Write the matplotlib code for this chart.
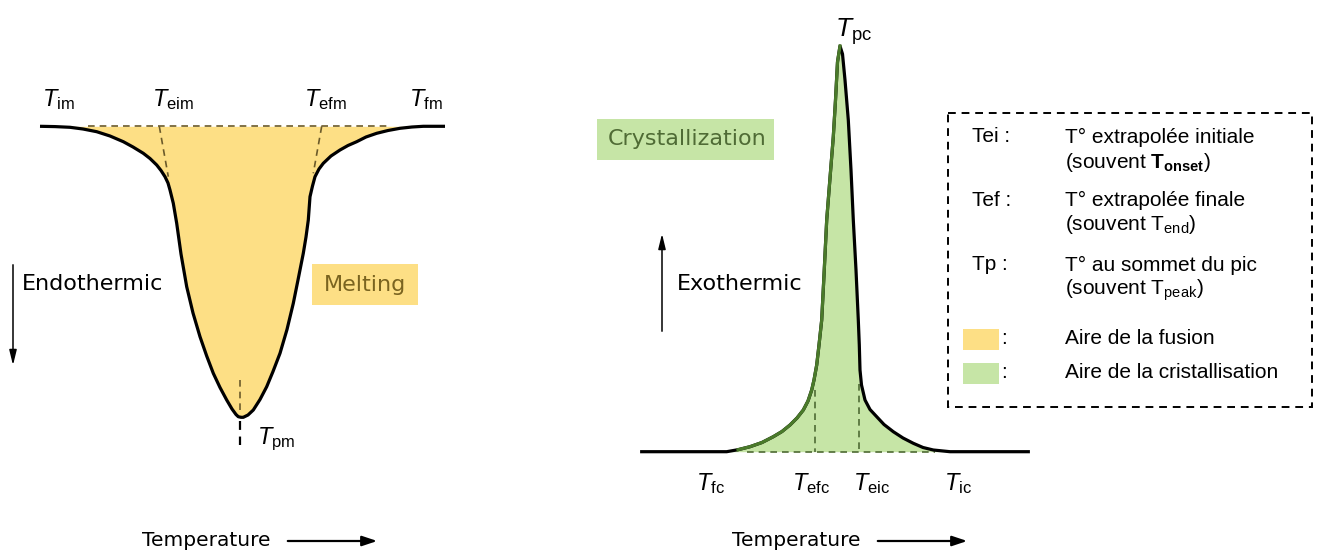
import matplotlib.pyplot as plt
from matplotlib.patches import Rectangle

plt.rcParams['mathtext.fontset'] = 'custom'
plt.rcParams['mathtext.rm'] = 'Liberation Sans'
plt.rcParams['mathtext.it'] = 'Liberation Sans:italic'
plt.rcParams['mathtext.bf'] = 'Liberation Sans:bold'

# melting curve (endotherm), pixel coords
melt_x = [40, 55, 70, 83, 96.7, 110, 123.3, 133, 143.3, 150, 156.7, 161, 165, 168, 170, 173.3, 176.7,
          181, 186.7, 193, 200, 206.7, 213.3, 220, 226.7, 232, 236, 238.3, 241, 243.3, 248, 253.3,
          260, 266.7, 273, 280, 287, 293.3, 298, 303.3, 306, 308.3, 310, 312.5, 315, 319, 323.3,
          331, 340, 348, 356.7, 366, 376.7, 388, 400, 412, 423.3, 445]
melt_y = [126.3, 126.6, 127.3, 129, 131.7, 136, 141.7, 147, 153.3, 158.5, 165, 170.5, 176.7, 183, 190,
          203.3, 223.3, 254, 286.7, 313, 336.7, 356, 373.3, 387.5, 400, 409, 414.5, 416.7, 417.3,
          417.3, 415, 410, 399.5, 386.7, 371.5, 353.3, 329.5, 303.3, 280, 253.3, 237, 220, 196.7,
          186, 176.7, 169, 163.3, 156, 150, 145.5, 141.7, 137, 133.3, 130.5, 128.3, 127, 126.3, 126.3]
melt_base = 126.3

# crystallization curve (exotherm)
cryst_x = [641.7, 700, 726.7, 738, 750, 762, 773.3, 782, 790, 797, 803.3, 808, 811.7, 814, 816.7,
           819, 821.7, 824, 826.7, 830, 833.3, 835.5, 837.5, 840, 842.5, 845, 848.3, 851, 853.3,
           856, 858.3, 859.3, 860, 861.5, 865, 870, 876.7, 884, 893.3, 903, 913.3, 923, 933.3,
           950, 1028.3]
cryst_y = [451.7, 451.7, 451.7, 449.7, 446.7, 442.5, 436.7, 431.5, 425, 418, 410, 401, 390, 380, 365,
           345, 320, 275, 220, 178, 136.7, 100, 62, 46, 54, 80, 120, 170, 220, 270, 320, 345, 370,
           385, 400, 409.5, 416.7, 424.5, 431.7, 438, 443.3, 447.5, 450, 451.7, 451.7]
cryst_base = 451.7

melt_labels = [r'$T_{\mathrm{im}}$', r'$T_{\mathrm{eim}}$', r'$T_{\mathrm{efm}}$', r'$T_{\mathrm{fm}}$']
melt_label_x = [42, 152, 304, 409]
cryst_labels = [r'$T_{\mathrm{fc}}$', r'$T_{\mathrm{efc}}$', r'$T_{\mathrm{eic}}$', r'$T_{\mathrm{ic}}$']
cryst_label_x = [696, 792, 853, 944]

legend_keys = ['Tei :', 'Tef :', 'Tp :']
legend_lines = [['T° extrapolée initiale', r'(souvent $\mathbf{T}_{\mathbf{onset}}$)'],
                ['T° extrapolée finale', r'(souvent T$_{\mathrm{end}}$)'],
                ['T° au sommet du pic', r'(souvent T$_{\mathrm{peak}}$)']]
area_labels = ['Aire de la fusion', 'Aire de la cristallisation']

YELLOW = '#fddf85'
GREEN = '#c6e5a6'
DASH_BROWN = '#6b5a2a'
DASH_GREEN = '#4f6b35'
DASH = (0, (4, 3))

fig = plt.figure(figsize=(13.17, 5.58), dpi=100)
ax = fig.add_axes([0, 0, 1, 1])
ax.set_xlim(0, 1317)
ax.set_ylim(558, 0)
ax.axis('off')

# ---- melting panel ----
ax.fill_between(melt_x, melt_y, melt_base, color=YELLOW, lw=0)
ax.plot([88, 390], [melt_base, melt_base], ls=DASH, color=DASH_BROWN, lw=1.2)
ax.plot([159.3, 168.3], [melt_base, 176.7], ls=DASH, color=DASH_BROWN, lw=1.2)
ax.plot([321.7, 313.3], [melt_base, 173.3], ls=DASH, color=DASH_BROWN, lw=1.2)
ax.plot([240, 240], [380, 410], ls=DASH, color=DASH_BROWN, lw=1.2)
ax.plot([240, 240], [421, 445], ls=DASH, color='black', lw=1.6)
ax.plot(melt_x, melt_y, color='black', lw=2.3, solid_capstyle='butt')

for lab, x in zip(melt_labels, melt_label_x):
    ax.text(x, 106, lab, fontsize=17, ha='left', va='baseline')
ax.text(257, 444, r'$T_{\mathrm{pm}}$', fontsize=17, ha='left', va='baseline')

ax.annotate('', xy=(13, 368), xytext=(13, 262),
            arrowprops=dict(arrowstyle='-|>,head_length=0.9,head_width=0.22', lw=1.1, color='black'))
ax.text(22, 284, 'Endothermic', fontsize=16, ha='left', va='center', family='DejaVu Sans')
ax.add_patch(Rectangle((312, 264), 106, 41, color=YELLOW, lw=0))
ax.text(365, 285, 'Melting', fontsize=16, ha='center', va='center', color='#7a6420',
        family='DejaVu Sans')

# ---- crystallization panel ----
ax.fill_between(cryst_x, cryst_y, cryst_base, color=GREEN, lw=0)
ax.plot([747, 935], [cryst_base, cryst_base], ls=DASH, color=DASH_GREEN, lw=1.2)
ax.plot([815, 815], [390, cryst_base], ls=DASH, color=DASH_GREEN, lw=1.2)
ax.plot([859.3, 859.3], [384, cryst_base], ls=DASH, color=DASH_GREEN, lw=1.2)
ax.plot(cryst_x, cryst_y, color='black', lw=2.3)
ax.plot(cryst_x[3:24], cryst_y[3:24], color='#4a7a2a', lw=2.3)

for lab, x in zip(cryst_labels, cryst_label_x):
    ax.text(x, 490, lab, fontsize=17, ha='left', va='baseline')
ax.text(835, 37, r'$T_{\mathrm{pc}}$', fontsize=19, ha='left', va='baseline')

ax.annotate('', xy=(662, 231), xytext=(662, 334),
            arrowprops=dict(arrowstyle='-|>,head_length=0.9,head_width=0.22', lw=1.1, color='black'))
ax.text(677, 284, 'Exothermic', fontsize=16, ha='left', va='center', family='DejaVu Sans')
ax.add_patch(Rectangle((597, 119), 177, 41, color=GREEN, lw=0))
ax.text(687, 139, 'Crystallization', fontsize=16, ha='center', va='center', color='#4f6b35',
        family='DejaVu Sans')

# ---- legend box ----
ax.add_patch(Rectangle((948, 113), 364, 294, fill=False, ls=DASH, lw=1.4, color='black'))
row_y = [137, 200, 265]
for key, lines, y in zip(legend_keys, legend_lines, row_y):
    ax.text(972, y, key, fontsize=15, ha='left', va='center', family='Liberation Sans')
    ax.text(1065, y, lines[0], fontsize=15, ha='left', va='center', family='Liberation Sans')
    ax.text(1065, y + 25, lines[1], fontsize=15, ha='left', va='center', family='Liberation Sans')

for lab, col, y in zip(area_labels, [YELLOW, GREEN], [339, 373]):
    ax.add_patch(Rectangle((963, y - 10.5), 36, 21, color=col, lw=0))
    ax.text(1001, y, ':', fontsize=15, ha='left', va='center', family='Liberation Sans')
    ax.text(1065, y, lab, fontsize=15, ha='left', va='center', family='Liberation Sans')

# ---- temperature axes labels ----
for x0 in [142, 732]:
    ax.text(x0, 541, 'Temperature', fontsize=14.5, ha='left', va='center', family='DejaVu Sans')
    ax.annotate('', xy=(x0 + 238, 541), xytext=(x0 + 143, 541),
                arrowprops=dict(arrowstyle='-|>,head_length=0.9,head_width=0.3', lw=1.6, color='black'))

fig.savefig('out.png', dpi=100)
